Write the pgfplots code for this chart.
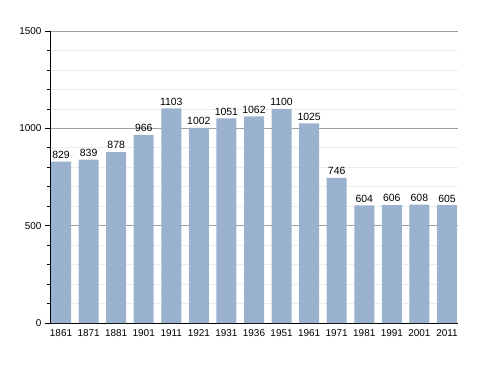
\documentclass[border=0pt]{standalone}
\usepackage{pgfplots}
\pgfplotsset{compat=1.18}
\usepackage{fontspec}
\setmainfont{Liberation Sans}
\definecolor{barc}{RGB}{155,178,206}
\begin{document}
\begin{tikzpicture}[x=1bp,y=1bp]
\useasboundingbox (-50bp,-50bp) rectangle (438bp,323bp);
\begin{axis}[
  at={(0,0)}, anchor=south west,
  scale only axis, width=408bp, height=292bp,
  xmin=-0.4, xmax=14.4, ymin=0, ymax=1500,
  axis x line*=bottom, axis y line*=left,
  axis line style={black, line width=0.9pt},
  xtick=data,
  xticklabels={1861,1871,1881,1901,1911,1921,1931,1936,1951,1961,1971,1981,1991,2001,2011},
  x tick style={draw=none},
  ytick={0,500,1000,1500},
  minor ytick={100,200,300,400,600,700,800,900,1100,1200,1300,1400},
  tick align=outside,
  major tick length=5bp, minor tick length=3bp,
  y tick style={black, line width=0.6pt},
  ymajorgrids, yminorgrids,
  major grid style={gray!75, line width=0.6pt},
  minor grid style={gray!15, line width=0.6pt},
  /pgf/number format/assume math mode=true,
  /pgf/number format/set thousands separator={},
  tick label style={font=\fontsize{10}{12}\selectfont},
  xticklabel style={yshift=2bp},
  ybar, bar width=20bp,
  nodes near coords,
  nodes near coords style={font=\fontsize{10.5}{12}\selectfont, black, yshift=-0.5bp},
  clip=false,
]
\addplot[fill=barc, draw=none] coordinates {
(0,829) (1,839) (2,878) (3,966) (4,1103) (5,1002) (6,1051) (7,1062)
(8,1100) (9,1025) (10,746) (11,604) (12,606) (13,608) (14,605)};
\end{axis}
\end{tikzpicture}
\end{document}
